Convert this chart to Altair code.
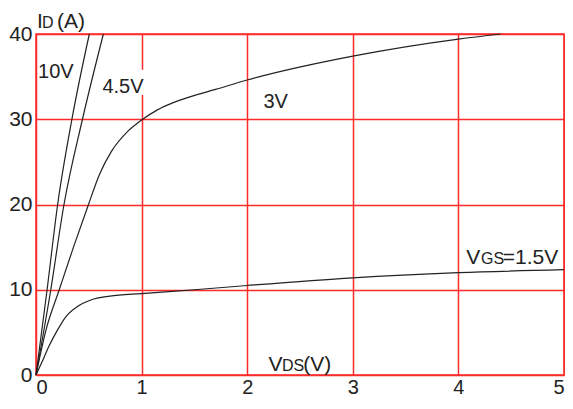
import altair as alt
import pandas as pd

# ---- curve data (VDS in V, ID in A) ----
v10_x = [0, 0.105, 0.205, 0.34, 0.505]
v10_y = [0, 10, 20, 30, 40]

v45_x = [0, 0.14, 0.265, 0.44, 0.638]
v45_y = [0, 10, 20, 30, 40]

v3_x = [0, 0.095, 0.22, 0.355, 0.497, 0.60, 0.713, 0.871, 1.0, 1.15, 1.3, 1.45, 1.7, 2.0, 3.0, 4.0, 4.40]
v3_y = [0, 5.3, 10, 15, 20, 23.5, 26.2, 28.6, 29.9, 31.1, 31.95, 32.6, 33.5, 34.6, 37.4, 39.4, 40.0]

v15_x = [0, 0.06, 0.12, 0.2, 0.28, 0.4, 0.52, 0.7, 1.0, 1.5, 2.0, 3.0, 4.0, 5.0]
v15_y = [0, 1.6, 3.3, 5.2, 6.8, 8.1, 8.8, 9.25, 9.55, 10.0, 10.5, 11.4, 12.0, 12.36]

x_ticks = [0, 1, 2, 3, 4, 5]
y_ticks = [0, 10, 20, 30, 40]

# ---- annotation texts (positions in data units) ----
big_text = ["I", "(A)", "V", "(V)", "V", "=1.5V"]
big_x = [0.01, 0.199, 2.2025, 2.53, 4.075, 4.42]
big_y = [40.72, 40.72, 0.5, 0.5, 13.02, 13.02]

small_text = ["D", "DS", "GS"]
small_x = [0.057, 2.33, 4.215]
small_y = [40.72, 0.5, 13.02]

curve_text = ["10V", "4.5V", "3V"]
curve_tx = [0.019, 0.629, 2.154]
curve_ty = [34.8, 33.1, 31.3]

rows = []
for name, xs, ys in [("10V", v10_x, v10_y), ("4.5V", v45_x, v45_y),
                     ("3V", v3_x, v3_y), ("1.5V", v15_x, v15_y)]:
    for i, (a, b) in enumerate(zip(xs, ys)):
        rows.append({"series": name, "vds": a, "id": b, "order": i})
curves = pd.DataFrame(rows)

big_df = pd.DataFrame({"t": big_text, "x": big_x, "y": big_y})
small_df = pd.DataFrame({"t": small_text, "x": small_x, "y": small_y})
curve_lab = pd.DataFrame({"t": curve_text, "x": curve_tx, "y": curve_ty})
mask_df = pd.DataFrame({"x": [0.965], "x2": [1.035], "y": [32.85], "y2": [35.8]})

FONT = "Liberation Sans"
TXT = "#222222"
GRID = "#ff2a2a"

xscale = alt.Scale(domain=[0, 5], nice=False, zero=False)
yscale = alt.Scale(domain=[0, 40], nice=False)

xaxis = alt.Axis(values=x_ticks, format="d", grid=True, ticks=False, domain=False,
                 labelFont=FONT, labelFontSize=20, labelColor=TXT,
                 labelPadding=2, gridColor=GRID, gridWidth=1.5, title=None)
yaxis = alt.Axis(values=y_ticks, format="d", grid=True, ticks=False, domain=False,
                 labelFont=FONT, labelFontSize=21, labelColor=TXT,
                 labelPadding=4, gridColor=GRID, gridWidth=1.5, title=None)

lines = alt.Chart(curves).mark_line(interpolate="monotone", color="#222222",
                                    strokeWidth=1.2).encode(
    x=alt.X("vds:Q", scale=xscale, axis=xaxis),
    y=alt.Y("id:Q", scale=yscale, axis=yaxis),
    detail="series:N",
    order="order:Q",
)

mask = alt.Chart(mask_df).mark_rect(color="white").encode(
    x=alt.X("x:Q", scale=xscale), x2="x2:Q",
    y=alt.Y("y:Q", scale=yscale), y2="y2:Q",
)

big = alt.Chart(big_df).mark_text(align="left", baseline="alphabetic", font=FONT,
                                  fontSize=21, color=TXT).encode(
    x=alt.X("x:Q", scale=xscale), y=alt.Y("y:Q", scale=yscale), text="t:N")
small = alt.Chart(small_df).mark_text(align="left", baseline="alphabetic", font=FONT,
                                      fontSize=16, color=TXT).encode(
    x=alt.X("x:Q", scale=xscale), y=alt.Y("y:Q", scale=yscale), text="t:N")
clab = alt.Chart(curve_lab).mark_text(align="left", baseline="alphabetic", font=FONT,
                                      fontSize=20, color=TXT).encode(
    x=alt.X("x:Q", scale=xscale), y=alt.Y("y:Q", scale=yscale), text="t:N")

chart = alt.layer(mask, lines, big, small, clab).properties(
    width=528, height=341,
    autosize=alt.AutoSizeParams(type="none"),
    padding={"left": 28, "top": 26, "right": 1, "bottom": 22},
    background="white",
).configure_view(stroke=GRID, strokeWidth=1.5)

chart.save("out.html", embed_options={"renderer": "svg", "actions": False})
